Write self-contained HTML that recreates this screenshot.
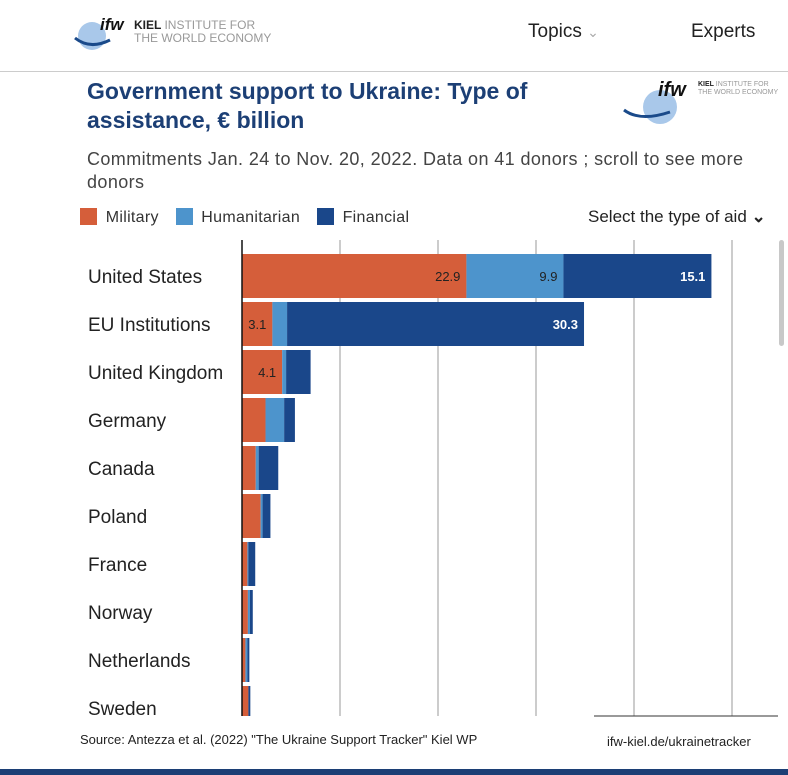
<!DOCTYPE html>
<html><head><meta charset="utf-8"><style>
body{margin:0;width:788px;height:775px;overflow:hidden;background:#fff;font-family:"Liberation Sans",sans-serif;position:relative}
.abs{position:absolute}
</style></head><body>
<div class="abs" style="left:0;top:0;width:788px;height:71px;border-bottom:1px solid #ccc">
  <svg class="abs" style="left:70px;top:10px" width="210" height="45">
    <circle cx="22" cy="26" r="14" fill="#a9c8ea"/>
    <path d="M5 28 Q20 40 40 30" stroke="#1a4a8a" stroke-width="3" fill="none"/>
    <text x="30" y="20" font-size="17" font-style="italic" font-weight="bold" fill="#111">ifw</text>
    <text x="64" y="19" font-size="12" font-weight="bold" fill="#222">KIEL <tspan font-weight="normal" fill="#999">INSTITUTE FOR</tspan></text>
    <text x="64" y="32" font-size="12" fill="#999">THE WORLD ECONOMY</text>
  </svg>
  <div class="abs" style="left:528px;top:21px;font-size:19px;color:#222">Topics <span style="color:#aaa;font-size:14px">&#8964;</span></div>
  <div class="abs" style="left:691px;top:21px;font-size:19px;color:#222">Experts</div>
</div>
<div class="abs" style="left:87px;top:77px;font-size:23px;font-weight:bold;color:#1c3f75;line-height:29px;width:480px">Government support to Ukraine: Type of assistance, € billion</div>
<svg class="abs" style="left:620px;top:72px" width="165" height="60">
  <circle cx="40" cy="35" r="17" fill="#a9c8ea"/>
  <path d="M4 38 Q20 50 50 40" stroke="#1a4a8a" stroke-width="3" fill="none"/>
  <text x="38" y="24" font-size="20" font-style="italic" font-weight="bold" fill="#111">ifw</text>
  <text x="78" y="14" font-size="7" font-weight="bold" fill="#222">KIEL <tspan font-weight="normal" fill="#999">INSTITUTE FOR</tspan></text>
  <text x="78" y="22" font-size="7" fill="#999">THE WORLD ECONOMY</text>
</svg>
<div class="abs" style="left:87px;top:148px;font-size:18px;color:#444;line-height:23px;width:680px;letter-spacing:0.4px">Commitments Jan. 24 to Nov. 20, 2022. Data on 41 donors ; scroll to see more donors</div>
<div class="abs" style="left:80px;top:208px;font-size:16px;color:#333;letter-spacing:0.3px">
  <span><span style="display:inline-block;width:17px;height:17px;background:#d55e3a;vertical-align:-3px;margin-right:4px"></span> Military</span>
  <span style="margin-left:12px"><span style="display:inline-block;width:17px;height:17px;background:#4d94cc;vertical-align:-3px;margin-right:4px"></span> Humanitarian</span>
  <span style="margin-left:12px"><span style="display:inline-block;width:17px;height:17px;background:#1a478a;vertical-align:-3px;margin-right:4px"></span> Financial</span>
</div>
<div class="abs" style="left:588px;top:207px;font-size:17px;color:#222">Select the type of aid <b>&#8964;</b></div>
<div class="abs" style="left:779px;top:240px;width:5px;height:106px;background:#c8c8c8;border-radius:3px"></div>
<svg class="abs" id="chart" style="left:0;top:235px" width="778" height="485"></svg>
<div class="abs" style="left:80px;top:732px;font-size:13px;color:#222">Source: Antezza et al. (2022) "The Ukraine Support Tracker" Kiel WP</div>
<div class="abs" style="left:607px;top:734px;font-size:13px;color:#222">ifw-kiel.de/ukrainetracker</div>
<div class="abs" style="left:0;top:769px;width:788px;height:6px;background:#1c3f75"></div>
<script>
const countries=["United States","EU Institutions","United Kingdom","Germany","Canada","Poland","France","Norway","Netherlands","Sweden"];
const military=[22.9,3.1,4.1,2.4,1.4,1.9,0.55,0.6,0.35,0.65];
const humanitarian=[9.9,1.5,0.4,1.9,0.3,0.2,0.1,0.2,0.2,0.0];
const financial=[15.1,30.3,2.5,1.1,2.0,0.8,0.7,0.3,0.2,0.2];
const gridTicks=[10,20,30,40,50];
const svg=document.getElementById('chart');
const NS='http://www.w3.org/2000/svg';
const x0=242,pxPer=9.8,top0=19,pitch=48,bh=44,clipY=481;
const xs=v=>x0+v*pxPer;
function mk(t,a){const e=document.createElementNS(NS,t);for(const k in a)e.setAttribute(k,a[k]);svg.appendChild(e);return e;}
const cp=mk('clipPath',{id:'cp'});
const r=document.createElementNS(NS,'rect');r.setAttribute('x',0);r.setAttribute('y',0);r.setAttribute('width',778);r.setAttribute('height',clipY);cp.appendChild(r);
gridTicks.forEach(t=>{const l=mk('line',{x1:xs(t),x2:xs(t),y1:5,y2:clipY,stroke:'#999','stroke-width':1});

});
const colors=['#d55e3a','#4d94cc','#1a478a'];
const series=[military,humanitarian,financial];
const names=['military','humanitarian','financial'];
countries.forEach((c,i)=>{
  const y=top0+i*pitch;
  const lab=mk('text',{x:88,y:y+bh/2+7,'font-size':19,fill:'#222','clip-path':'url(#cp)'});
  lab.textContent=c;
  
  
  let acc=0;
  series.forEach((s,j)=>{
    const v=s[i];
    const rect=mk('rect',{x:xs(acc),y:y,width:v*pxPer,height:bh,fill:colors[j],'clip-path':'url(#cp)'});
    
    
    if(v*pxPer>28){
      const t=mk('text',{x:xs(acc+v)-6,y:y+bh/2+5,'font-size':13,'text-anchor':'end',fill:j==2?'#fff':'#222','font-weight':j==2?'bold':'normal'});
      t.textContent=v.toFixed(1);
      
      
    }
    acc+=v;
  });
});
const ax=mk('line',{x1:x0,x2:x0,y1:5,y2:clipY,stroke:'#111','stroke-width':1.5});


const bl=mk('line',{x1:594,x2:778,y1:clipY,y2:clipY,stroke:'#333','stroke-width':1});


</script>
</body></html>
